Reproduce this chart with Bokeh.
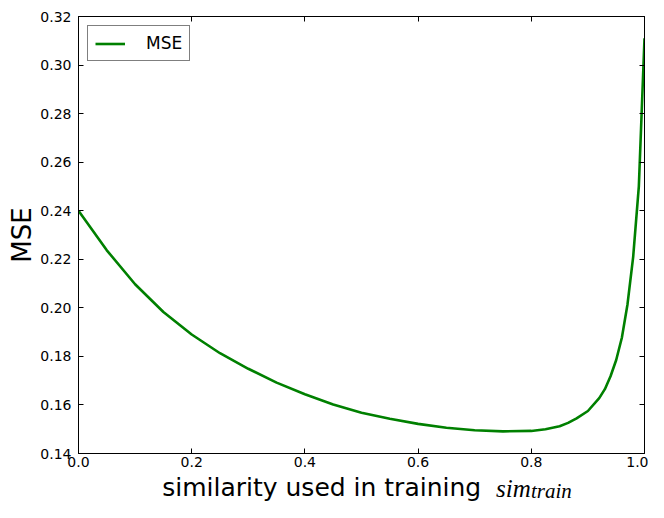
from bokeh.plotting import figure
from bokeh.layouts import column
from bokeh.models import Range1d, FixedTicker, PrintfTickFormatter, LinearAxis, Label, Legend, LegendItem
from bokeh.embed import file_html
from bokeh.resources import INLINE

# data
sim_train = [0.00, 0.05, 0.10, 0.15, 0.20, 0.25, 0.30, 0.35, 0.40, 0.45, 0.50,
             0.55, 0.60, 0.65, 0.70, 0.75, 0.80, 0.825, 0.85, 0.865, 0.88, 0.90, 0.92,
             0.93, 0.94, 0.95, 0.96, 0.97, 0.98, 0.99, 1.00]
mse = [0.2400, 0.2237, 0.2097, 0.1983, 0.1890, 0.1813, 0.1749, 0.1692, 0.1644,
       0.1602, 0.1568, 0.1543, 0.1522, 0.1506, 0.1496, 0.1491, 0.1493, 0.1500,
       0.1512, 0.1526, 0.1545, 0.1575, 0.1628, 0.1665, 0.1718, 0.1785, 0.1877,
       0.2015, 0.2210, 0.2500, 0.3110]
x_ticks = [0.0, 0.2, 0.4, 0.6, 0.8, 1.0]
y_ticks = [0.14, 0.16, 0.18, 0.20, 0.22, 0.24, 0.26, 0.28, 0.30, 0.32]
series_name = "MSE"
y_label = "MSE"
x_label_main = "similarity used in training"
x_label_math = "sim"
x_label_sub = "train"

FONT = "DejaVu Sans"
W = 648
H_MAIN = 473
H_XLABEL = 29

p = figure(width=W, height=H_MAIN, output_backend="svg", toolbar_location=None,
           x_range=Range1d(0, 1), y_range=Range1d(0.14, 0.32),
           min_border_left=78, min_border_right=4, min_border_top=16, min_border_bottom=20)
p.background_fill_color = "white"
p.border_fill_color = "white"
p.outline_line_color = "black"
p.outline_line_width = 1
p.xgrid.visible = False
p.ygrid.visible = False

def style_axis(ax, ticks, fmt, labels=True):
    ax.ticker = FixedTicker(ticks=ticks)
    ax.formatter = PrintfTickFormatter(format=fmt)
    ax.major_tick_in = 5
    ax.major_tick_out = 0
    ax.minor_tick_line_color = None
    ax.axis_line_color = "black"
    ax.major_tick_line_color = "black"
    ax.major_label_text_font = FONT
    ax.major_label_text_font_size = "14px"
    ax.major_label_text_color = "black" if labels else None
    if not labels:
        ax.major_label_standoff = 0

style_axis(p.xaxis[0], x_ticks, "%.1f")
style_axis(p.yaxis[0], y_ticks, "%.2f")
p.xaxis[0].major_label_standoff = 3
p.yaxis[0].major_label_standoff = 7

p.yaxis[0].axis_label = y_label
p.yaxis[0].axis_label_text_font = FONT
p.yaxis[0].axis_label_text_font_size = "26px"
p.yaxis[0].axis_label_text_font_style = "normal"
p.yaxis[0].axis_label_text_color = "black"
p.yaxis[0].axis_label_standoff = 0

top = LinearAxis()
style_axis(top, x_ticks, "%.1f", labels=False)
p.add_layout(top, "above")
right = LinearAxis()
style_axis(right, y_ticks, "%.2f", labels=False)
p.add_layout(right, "right")

r = p.line(sim_train, mse, line_color="#008000", line_width=2.6)

legend = Legend(items=[LegendItem(label=series_name, renderers=[r])], location="top_left")
legend.border_line_color = "black"
legend.border_line_width = 1
legend.margin = 9
legend.padding = 7
legend.glyph_width = 30
legend.glyph_height = 13
legend.label_height = 13
legend.label_standoff = 21
legend.label_text_font = FONT
legend.label_text_font_size = "17px"
legend.label_text_color = "black"
legend.background_fill_alpha = 1
p.add_layout(legend)

# strip under the chart carrying the x-axis title with its math part (sim_train)
q = figure(width=W, height=H_XLABEL, output_backend="svg", toolbar_location=None,
           x_range=Range1d(0, W), y_range=Range1d(0, H_XLABEL),
           x_axis_type=None, y_axis_type=None,
           min_border_left=0, min_border_right=0, min_border_top=0, min_border_bottom=0)
q.outline_line_color = None
q.background_fill_color = "white"
q.border_fill_color = "white"
q.grid.visible = False
q.add_layout(Label(x=461, y=14.55, text=x_label_main, text_align="right",
                   text_baseline="alphabetic", text_font=FONT, text_font_size="25px",
                   text_color="black"))
q.add_layout(Label(x=478, y=14.2, text=x_label_math, text_align="left",
                   text_baseline="alphabetic", text_font="Liberation Serif",
                   text_font_style="italic", text_font_size="25px", text_color="black"))
q.add_layout(Label(x=518, y=11.7, text=x_label_sub, text_align="left",
                   text_baseline="alphabetic", text_font="Liberation Serif",
                   text_font_style="italic", text_font_size="21px", text_color="black"))

layout = column(p, q, spacing=0)
open("out.html", "w").write(file_html(layout, INLINE))
